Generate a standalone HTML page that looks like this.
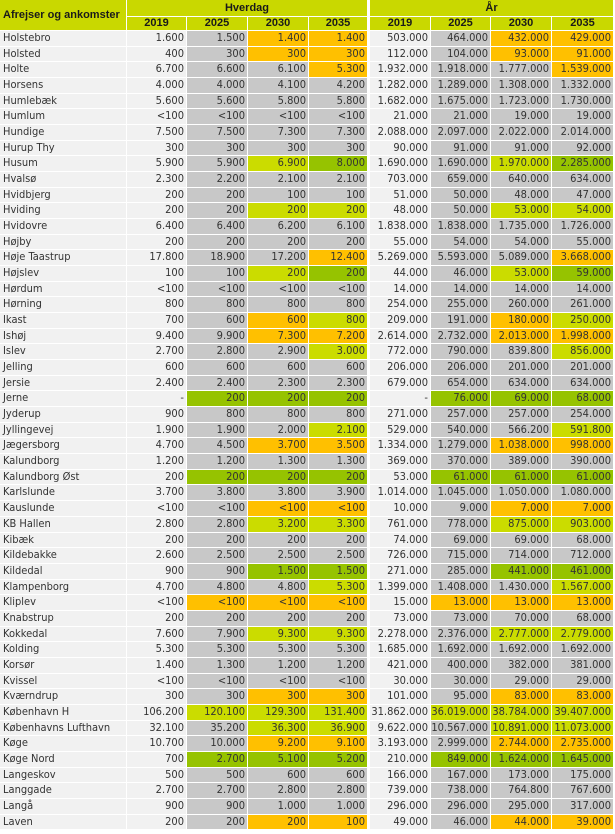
<!DOCTYPE html>
<html><head><meta charset="utf-8">
<style>
html,body{margin:0;padding:0;background:#fff;}
body{width:615px;height:834px;overflow:hidden;position:relative;font-family:"DejaVu Sans Condensed","Liberation Sans",sans-serif;font-size:11px;color:#333;}
.h1,.h2,.r{display:flex;}
.h1{height:16px;margin-bottom:1px;}
.h2{height:13px;margin-bottom:1px;}
.r{height:14.68px;margin-bottom:1px;}
.h1 span,.h2 span{background:#c9d800;color:#1a1a1a;font-weight:bold;font-family:"Liberation Sans",sans-serif;font-size:11px;text-align:center;box-sizing:border-box;margin-right:1px;}
.h1 span{line-height:16px;}
.h2 span{line-height:13px;}
.r span{background:#f1f1f1;box-sizing:border-box;margin-right:1px;text-align:right;padding-right:2px;line-height:14.68px;white-space:nowrap;overflow:hidden;}
.r span:nth-child(1){width:126px;text-align:left;padding-left:3px;padding-right:0;}
.r span:nth-child(2),.h2 span:nth-child(1){width:59px;}
.r span:nth-child(3),.h2 span:nth-child(2){width:60px;}
.r span:nth-child(4),.h2 span:nth-child(3){width:60px;}
.r span:nth-child(5),.h2 span:nth-child(4){width:58px;margin-right:3px;}
.r span:nth-child(6),.h2 span:nth-child(5){width:60px;}
.r span:nth-child(7),.h2 span:nth-child(6){width:59px;}
.r span:nth-child(8),.h2 span:nth-child(7){width:60px;}
.r span:nth-child(9),.h2 span:nth-child(8){width:61px;}
.r span.g{background:#c8c8c8;}
.r span.o{background:#ffc000;}
.r span.y{background:#cbdc00;}
.r span.d{background:#96c300;}
#nh{position:absolute;left:0;top:0;width:126px;height:30px;background:#c9d800;color:#1a1a1a;font-weight:bold;font-family:"Liberation Sans",sans-serif;font-size:11px;line-height:30px;padding-left:3px;box-sizing:border-box;}
#hdr{position:absolute;left:127px;top:0;}
#body{position:absolute;left:0;top:31px;}
</style></head><body>
<div id="nh">Afrejser og ankomster</div>
<div id="hdr">
<div class="h1"><span style="width:240px;margin-right:3px">Hverdag</span><span style="width:243px">År</span></div>
<div class="h2"><span>2019</span><span>2025</span><span>2030</span><span>2035</span><span>2019</span><span>2025</span><span>2030</span><span>2035</span></div>
</div>
<div id="body">
<div class="r"><span>Holstebro</span><span>1.600</span><span class="g">1.500</span><span class="o">1.400</span><span class="o">1.400</span><span>503.000</span><span class="g">464.000</span><span class="o">432.000</span><span class="o">429.000</span></div>
<div class="r"><span>Holsted</span><span>400</span><span class="g">300</span><span class="o">300</span><span class="o">300</span><span>112.000</span><span class="g">104.000</span><span class="o">93.000</span><span class="o">91.000</span></div>
<div class="r"><span>Holte</span><span>6.700</span><span class="g">6.600</span><span class="g">6.100</span><span class="o">5.300</span><span>1.932.000</span><span class="g">1.918.000</span><span class="g">1.777.000</span><span class="o">1.539.000</span></div>
<div class="r"><span>Horsens</span><span>4.000</span><span class="g">4.000</span><span class="g">4.100</span><span class="g">4.200</span><span>1.282.000</span><span class="g">1.289.000</span><span class="g">1.308.000</span><span class="g">1.332.000</span></div>
<div class="r"><span>Humlebæk</span><span>5.600</span><span class="g">5.600</span><span class="g">5.800</span><span class="g">5.800</span><span>1.682.000</span><span class="g">1.675.000</span><span class="g">1.723.000</span><span class="g">1.730.000</span></div>
<div class="r"><span>Humlum</span><span>&lt;100</span><span class="g">&lt;100</span><span class="g">&lt;100</span><span class="g">&lt;100</span><span>21.000</span><span class="g">21.000</span><span class="g">19.000</span><span class="g">19.000</span></div>
<div class="r"><span>Hundige</span><span>7.500</span><span class="g">7.500</span><span class="g">7.300</span><span class="g">7.300</span><span>2.088.000</span><span class="g">2.097.000</span><span class="g">2.022.000</span><span class="g">2.014.000</span></div>
<div class="r"><span>Hurup Thy</span><span>300</span><span class="g">300</span><span class="g">300</span><span class="g">300</span><span>90.000</span><span class="g">91.000</span><span class="g">91.000</span><span class="g">92.000</span></div>
<div class="r"><span>Husum</span><span>5.900</span><span class="g">5.900</span><span class="y">6.900</span><span class="d">8.000</span><span>1.690.000</span><span class="g">1.690.000</span><span class="y">1.970.000</span><span class="d">2.285.000</span></div>
<div class="r"><span>Hvalsø</span><span>2.300</span><span class="g">2.200</span><span class="g">2.100</span><span class="g">2.100</span><span>703.000</span><span class="g">659.000</span><span class="g">640.000</span><span class="g">634.000</span></div>
<div class="r"><span>Hvidbjerg</span><span>200</span><span class="g">200</span><span class="g">100</span><span class="g">100</span><span>51.000</span><span class="g">50.000</span><span class="g">48.000</span><span class="g">47.000</span></div>
<div class="r"><span>Hviding</span><span>200</span><span class="g">200</span><span class="y">200</span><span class="y">200</span><span>48.000</span><span class="g">50.000</span><span class="y">53.000</span><span class="y">54.000</span></div>
<div class="r"><span>Hvidovre</span><span>6.400</span><span class="g">6.400</span><span class="g">6.200</span><span class="g">6.100</span><span>1.838.000</span><span class="g">1.838.000</span><span class="g">1.735.000</span><span class="g">1.726.000</span></div>
<div class="r"><span>Højby</span><span>200</span><span class="g">200</span><span class="g">200</span><span class="g">200</span><span>55.000</span><span class="g">54.000</span><span class="g">54.000</span><span class="g">55.000</span></div>
<div class="r"><span>Høje Taastrup</span><span>17.800</span><span class="g">18.900</span><span class="g">17.200</span><span class="o">12.400</span><span>5.269.000</span><span class="g">5.593.000</span><span class="g">5.089.000</span><span class="o">3.668.000</span></div>
<div class="r"><span>Højslev</span><span>100</span><span class="g">100</span><span class="y">200</span><span class="d">200</span><span>44.000</span><span class="g">46.000</span><span class="y">53.000</span><span class="d">59.000</span></div>
<div class="r"><span>Hørdum</span><span>&lt;100</span><span class="g">&lt;100</span><span class="g">&lt;100</span><span class="g">&lt;100</span><span>14.000</span><span class="g">14.000</span><span class="g">14.000</span><span class="g">14.000</span></div>
<div class="r"><span>Hørning</span><span>800</span><span class="g">800</span><span class="g">800</span><span class="g">800</span><span>254.000</span><span class="g">255.000</span><span class="g">260.000</span><span class="g">261.000</span></div>
<div class="r"><span>Ikast</span><span>700</span><span class="g">600</span><span class="o">600</span><span class="y">800</span><span>209.000</span><span class="g">191.000</span><span class="o">180.000</span><span class="y">250.000</span></div>
<div class="r"><span>Ishøj</span><span>9.400</span><span class="g">9.900</span><span class="o">7.300</span><span class="o">7.200</span><span>2.614.000</span><span class="g">2.732.000</span><span class="o">2.013.000</span><span class="o">1.998.000</span></div>
<div class="r"><span>Islev</span><span>2.700</span><span class="g">2.800</span><span class="g">2.900</span><span class="y">3.000</span><span>772.000</span><span class="g">790.000</span><span class="g">839.800</span><span class="y">856.000</span></div>
<div class="r"><span>Jelling</span><span>600</span><span class="g">600</span><span class="g">600</span><span class="g">600</span><span>206.000</span><span class="g">206.000</span><span class="g">201.000</span><span class="g">201.000</span></div>
<div class="r"><span>Jersie</span><span>2.400</span><span class="g">2.400</span><span class="g">2.300</span><span class="g">2.300</span><span>679.000</span><span class="g">654.000</span><span class="g">634.000</span><span class="g">634.000</span></div>
<div class="r"><span>Jerne</span><span>-</span><span class="d">200</span><span class="d">200</span><span class="d">200</span><span>-</span><span class="d">76.000</span><span class="d">69.000</span><span class="d">68.000</span></div>
<div class="r"><span>Jyderup</span><span>900</span><span class="g">800</span><span class="g">800</span><span class="g">800</span><span>271.000</span><span class="g">257.000</span><span class="g">257.000</span><span class="g">254.000</span></div>
<div class="r"><span>Jyllingevej</span><span>1.900</span><span class="g">1.900</span><span class="g">2.000</span><span class="y">2.100</span><span>529.000</span><span class="g">540.000</span><span class="g">566.200</span><span class="y">591.800</span></div>
<div class="r"><span>Jægersborg</span><span>4.700</span><span class="g">4.500</span><span class="o">3.700</span><span class="o">3.500</span><span>1.334.000</span><span class="g">1.279.000</span><span class="o">1.038.000</span><span class="o">998.000</span></div>
<div class="r"><span>Kalundborg</span><span>1.200</span><span class="g">1.200</span><span class="g">1.300</span><span class="g">1.300</span><span>369.000</span><span class="g">370.000</span><span class="g">389.000</span><span class="g">390.000</span></div>
<div class="r"><span>Kalundborg Øst</span><span>200</span><span class="d">200</span><span class="d">200</span><span class="d">200</span><span>53.000</span><span class="d">61.000</span><span class="d">61.000</span><span class="d">61.000</span></div>
<div class="r"><span>Karlslunde</span><span>3.700</span><span class="g">3.800</span><span class="g">3.800</span><span class="g">3.900</span><span>1.014.000</span><span class="g">1.045.000</span><span class="g">1.050.000</span><span class="g">1.080.000</span></div>
<div class="r"><span>Kauslunde</span><span>&lt;100</span><span class="g">&lt;100</span><span class="o">&lt;100</span><span class="o">&lt;100</span><span>10.000</span><span class="g">9.000</span><span class="o">7.000</span><span class="o">7.000</span></div>
<div class="r"><span>KB Hallen</span><span>2.800</span><span class="g">2.800</span><span class="y">3.200</span><span class="y">3.300</span><span>761.000</span><span class="g">778.000</span><span class="y">875.000</span><span class="y">903.000</span></div>
<div class="r"><span>Kibæk</span><span>200</span><span class="g">200</span><span class="g">200</span><span class="g">200</span><span>74.000</span><span class="g">69.000</span><span class="g">69.000</span><span class="g">68.000</span></div>
<div class="r"><span>Kildebakke</span><span>2.600</span><span class="g">2.500</span><span class="g">2.500</span><span class="g">2.500</span><span>726.000</span><span class="g">715.000</span><span class="g">714.000</span><span class="g">712.000</span></div>
<div class="r"><span>Kildedal</span><span>900</span><span class="g">900</span><span class="d">1.500</span><span class="d">1.500</span><span>271.000</span><span class="g">285.000</span><span class="d">441.000</span><span class="d">461.000</span></div>
<div class="r"><span>Klampenborg</span><span>4.700</span><span class="g">4.800</span><span class="g">4.800</span><span class="y">5.300</span><span>1.399.000</span><span class="g">1.408.000</span><span class="g">1.430.000</span><span class="y">1.567.000</span></div>
<div class="r"><span>Kliplev</span><span>&lt;100</span><span class="o">&lt;100</span><span class="o">&lt;100</span><span class="o">&lt;100</span><span>15.000</span><span class="o">13.000</span><span class="o">13.000</span><span class="o">13.000</span></div>
<div class="r"><span>Knabstrup</span><span>200</span><span class="g">200</span><span class="g">200</span><span class="g">200</span><span>73.000</span><span class="g">73.000</span><span class="g">70.000</span><span class="g">68.000</span></div>
<div class="r"><span>Kokkedal</span><span>7.600</span><span class="g">7.900</span><span class="y">9.300</span><span class="y">9.300</span><span>2.278.000</span><span class="g">2.376.000</span><span class="y">2.777.000</span><span class="y">2.779.000</span></div>
<div class="r"><span>Kolding</span><span>5.300</span><span class="g">5.300</span><span class="g">5.300</span><span class="g">5.300</span><span>1.685.000</span><span class="g">1.692.000</span><span class="g">1.692.000</span><span class="g">1.692.000</span></div>
<div class="r"><span>Korsør</span><span>1.400</span><span class="g">1.300</span><span class="g">1.200</span><span class="g">1.200</span><span>421.000</span><span class="g">400.000</span><span class="g">382.000</span><span class="g">381.000</span></div>
<div class="r"><span>Kvissel</span><span>&lt;100</span><span class="g">&lt;100</span><span class="g">&lt;100</span><span class="g">&lt;100</span><span>30.000</span><span class="g">30.000</span><span class="g">29.000</span><span class="g">29.000</span></div>
<div class="r"><span>Kværndrup</span><span>300</span><span class="g">300</span><span class="o">300</span><span class="o">300</span><span>101.000</span><span class="g">95.000</span><span class="o">83.000</span><span class="o">83.000</span></div>
<div class="r"><span>København H</span><span>106.200</span><span class="y">120.100</span><span class="y">129.300</span><span class="y">131.400</span><span>31.862.000</span><span class="y">36.019.000</span><span class="y">38.784.000</span><span class="y">39.407.000</span></div>
<div class="r"><span>Københavns Lufthavn</span><span>32.100</span><span class="g">35.200</span><span class="y">36.300</span><span class="y">36.900</span><span>9.622.000</span><span class="g">10.567.000</span><span class="y">10.891.000</span><span class="y">11.073.000</span></div>
<div class="r"><span>Køge</span><span>10.700</span><span class="g">10.000</span><span class="o">9.200</span><span class="o">9.100</span><span>3.193.000</span><span class="g">2.999.000</span><span class="o">2.744.000</span><span class="o">2.735.000</span></div>
<div class="r"><span>Køge Nord</span><span>700</span><span class="d">2.700</span><span class="d">5.100</span><span class="d">5.200</span><span>210.000</span><span class="d">849.000</span><span class="d">1.624.000</span><span class="d">1.645.000</span></div>
<div class="r"><span>Langeskov</span><span>500</span><span class="g">500</span><span class="g">600</span><span class="g">600</span><span>166.000</span><span class="g">167.000</span><span class="g">173.000</span><span class="g">175.000</span></div>
<div class="r"><span>Langgade</span><span>2.700</span><span class="g">2.700</span><span class="g">2.800</span><span class="g">2.800</span><span>739.000</span><span class="g">738.000</span><span class="g">764.800</span><span class="g">767.600</span></div>
<div class="r"><span>Langå</span><span>900</span><span class="g">900</span><span class="g">1.000</span><span class="g">1.000</span><span>296.000</span><span class="g">296.000</span><span class="g">295.000</span><span class="g">317.000</span></div>
<div class="r"><span>Laven</span><span>200</span><span class="g">200</span><span class="o">200</span><span class="o">100</span><span>49.000</span><span class="g">46.000</span><span class="o">44.000</span><span class="o">39.000</span></div>
</div>
</body></html>
